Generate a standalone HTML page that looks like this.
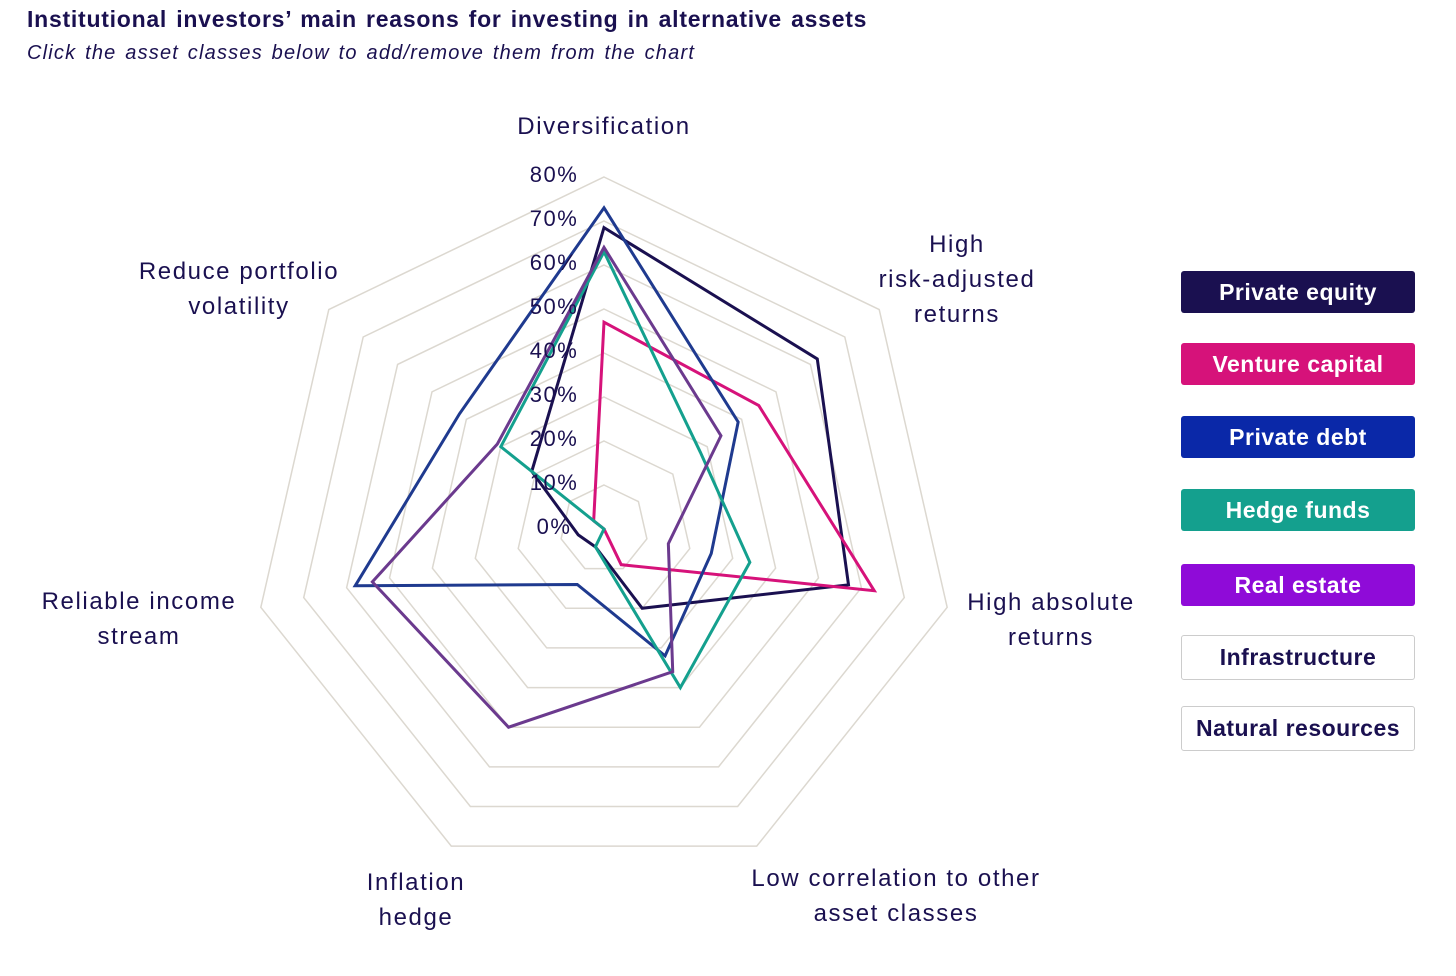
<!DOCTYPE html>
<html><head><meta charset="utf-8"><style>
body{margin:0;background:#fff;width:1456px;height:976px;overflow:hidden;font-family:"Liberation Sans",sans-serif;color:#1a1050;position:relative}
.t{position:absolute;left:27px;top:6px;font-size:23px;font-weight:bold;color:#1a1050;letter-spacing:0.75px;word-spacing:2px}
.s{position:absolute;left:27px;top:42px;font-size:20px;font-style:italic;color:#1a1050;letter-spacing:1.2px;word-spacing:2px}
.lg{position:absolute;left:1181px;width:234px;height:42px;border-radius:3px;font-weight:bold;font-size:23px;color:#fff;display:flex;align-items:center;justify-content:center;box-sizing:border-box;letter-spacing:0.5px}
</style></head><body>
<div class="t">Institutional investors’ main reasons for investing in alternative assets</div>
<div class="s">Click the asset classes below to add/remove them from the chart</div>
<svg id="c" width="1456" height="976" style="position:absolute;left:0;top:0"></svg>
<div class="lg" style="top:271px;background:#1a1050">Private equity</div>
<div class="lg" style="top:343px;background:#d6127a">Venture capital</div>
<div class="lg" style="top:416px;background:#0a28a8">Private debt</div>
<div class="lg" style="top:489px;background:#14a08e">Hedge funds</div>
<div class="lg" style="top:564px;background:#8f0bd8">Real estate</div>
<div class="lg" style="top:635px;height:45px;background:#fff;color:#1a1050;border:1px solid #ccc">Infrastructure</div>
<div class="lg" style="top:706px;height:45px;background:#fff;color:#1a1050;border:1px solid #ccc">Natural resources</div>
<script>
const axes=["Diversification","High risk-adjusted returns","High absolute returns","Low correlation to other asset classes","Inflation hedge","Reliable income stream","Reduce portfolio volatility"];
const ticks=[0,10,20,30,40,50,60,70,80];
const privateEquity=[68.5,62,57,20,4.5,6,21];
const ventureCapital=[47,45,63,9,0,0,3];
const privateDebt=[73,39,25,32,14,58,42];
const hedgeFunds=[63,28,34,40,4.5,0,30];
const realEstate=[64,34,15,36,50,54,31];
const series=[["private-equity",privateEquity,"#1a1050"],["venture-capital",ventureCapital,"#d6127a"],["private-debt",privateDebt,"#1f3a8f"],["hedge-funds",hedgeFunds,"#14a08e"],["real-estate",realEstate,"#6b3a8e"]];
const cx=604,cy=529,R=352,maxV=80;
const svg=document.getElementById('c');const NS="http://www.w3.org/2000/svg";
function pt(i,v){const a=i*2*Math.PI/7;const r=v/maxV*R;return [cx+r*Math.sin(a),cy-r*Math.cos(a)];}
function mk(t,at){const e=document.createElementNS(NS,t);for(const k in at)e.setAttribute(k,at[k]);svg.appendChild(e);return e;}
for(let k=1;k<ticks.length;k++){const p=axes.map((_,i)=>pt(i,ticks[k]).join(',')).join(' ');
const g=mk('polygon',{points:p,fill:'none',stroke:'#dcd8d0','stroke-width':1.5});

}
const lblPos=[[604,126,["Diversification"]],[957,244,["High","risk-adjusted","returns"]],[1051,602,["High absolute","returns"]],[896,878,["Low correlation to other","asset classes"]],[416,882,["Inflation","hedge"]],[139,601,["Reliable income","stream"]],[239,271,["Reduce portfolio","volatility"]]];
lblPos.forEach((l,i)=>{l[2].forEach((s,j)=>{const t=mk('text',{x:l[0],y:l[1]+j*35+8,'text-anchor':'middle','font-size':24,fill:'#1a1050','font-family':'Liberation Sans, sans-serif','letter-spacing':'1.6'});t.textContent=s;

});});
series.forEach(s=>{const p=s[1].map((v,i)=>pt(i,v).join(',')).join(' ');
const e=mk('polygon',{points:p,fill:'none',stroke:s[2],'stroke-width':3,'stroke-linejoin':'miter'});

});
ticks.forEach(v=>{const p=pt(0,v);const t=mk('text',{x:554,y:p[1]+5,'text-anchor':'middle','font-size':22,fill:'#1a1050','font-family':'Liberation Sans, sans-serif','letter-spacing':'1.5'});t.textContent=v+'%';

});
</script>
</body></html>
